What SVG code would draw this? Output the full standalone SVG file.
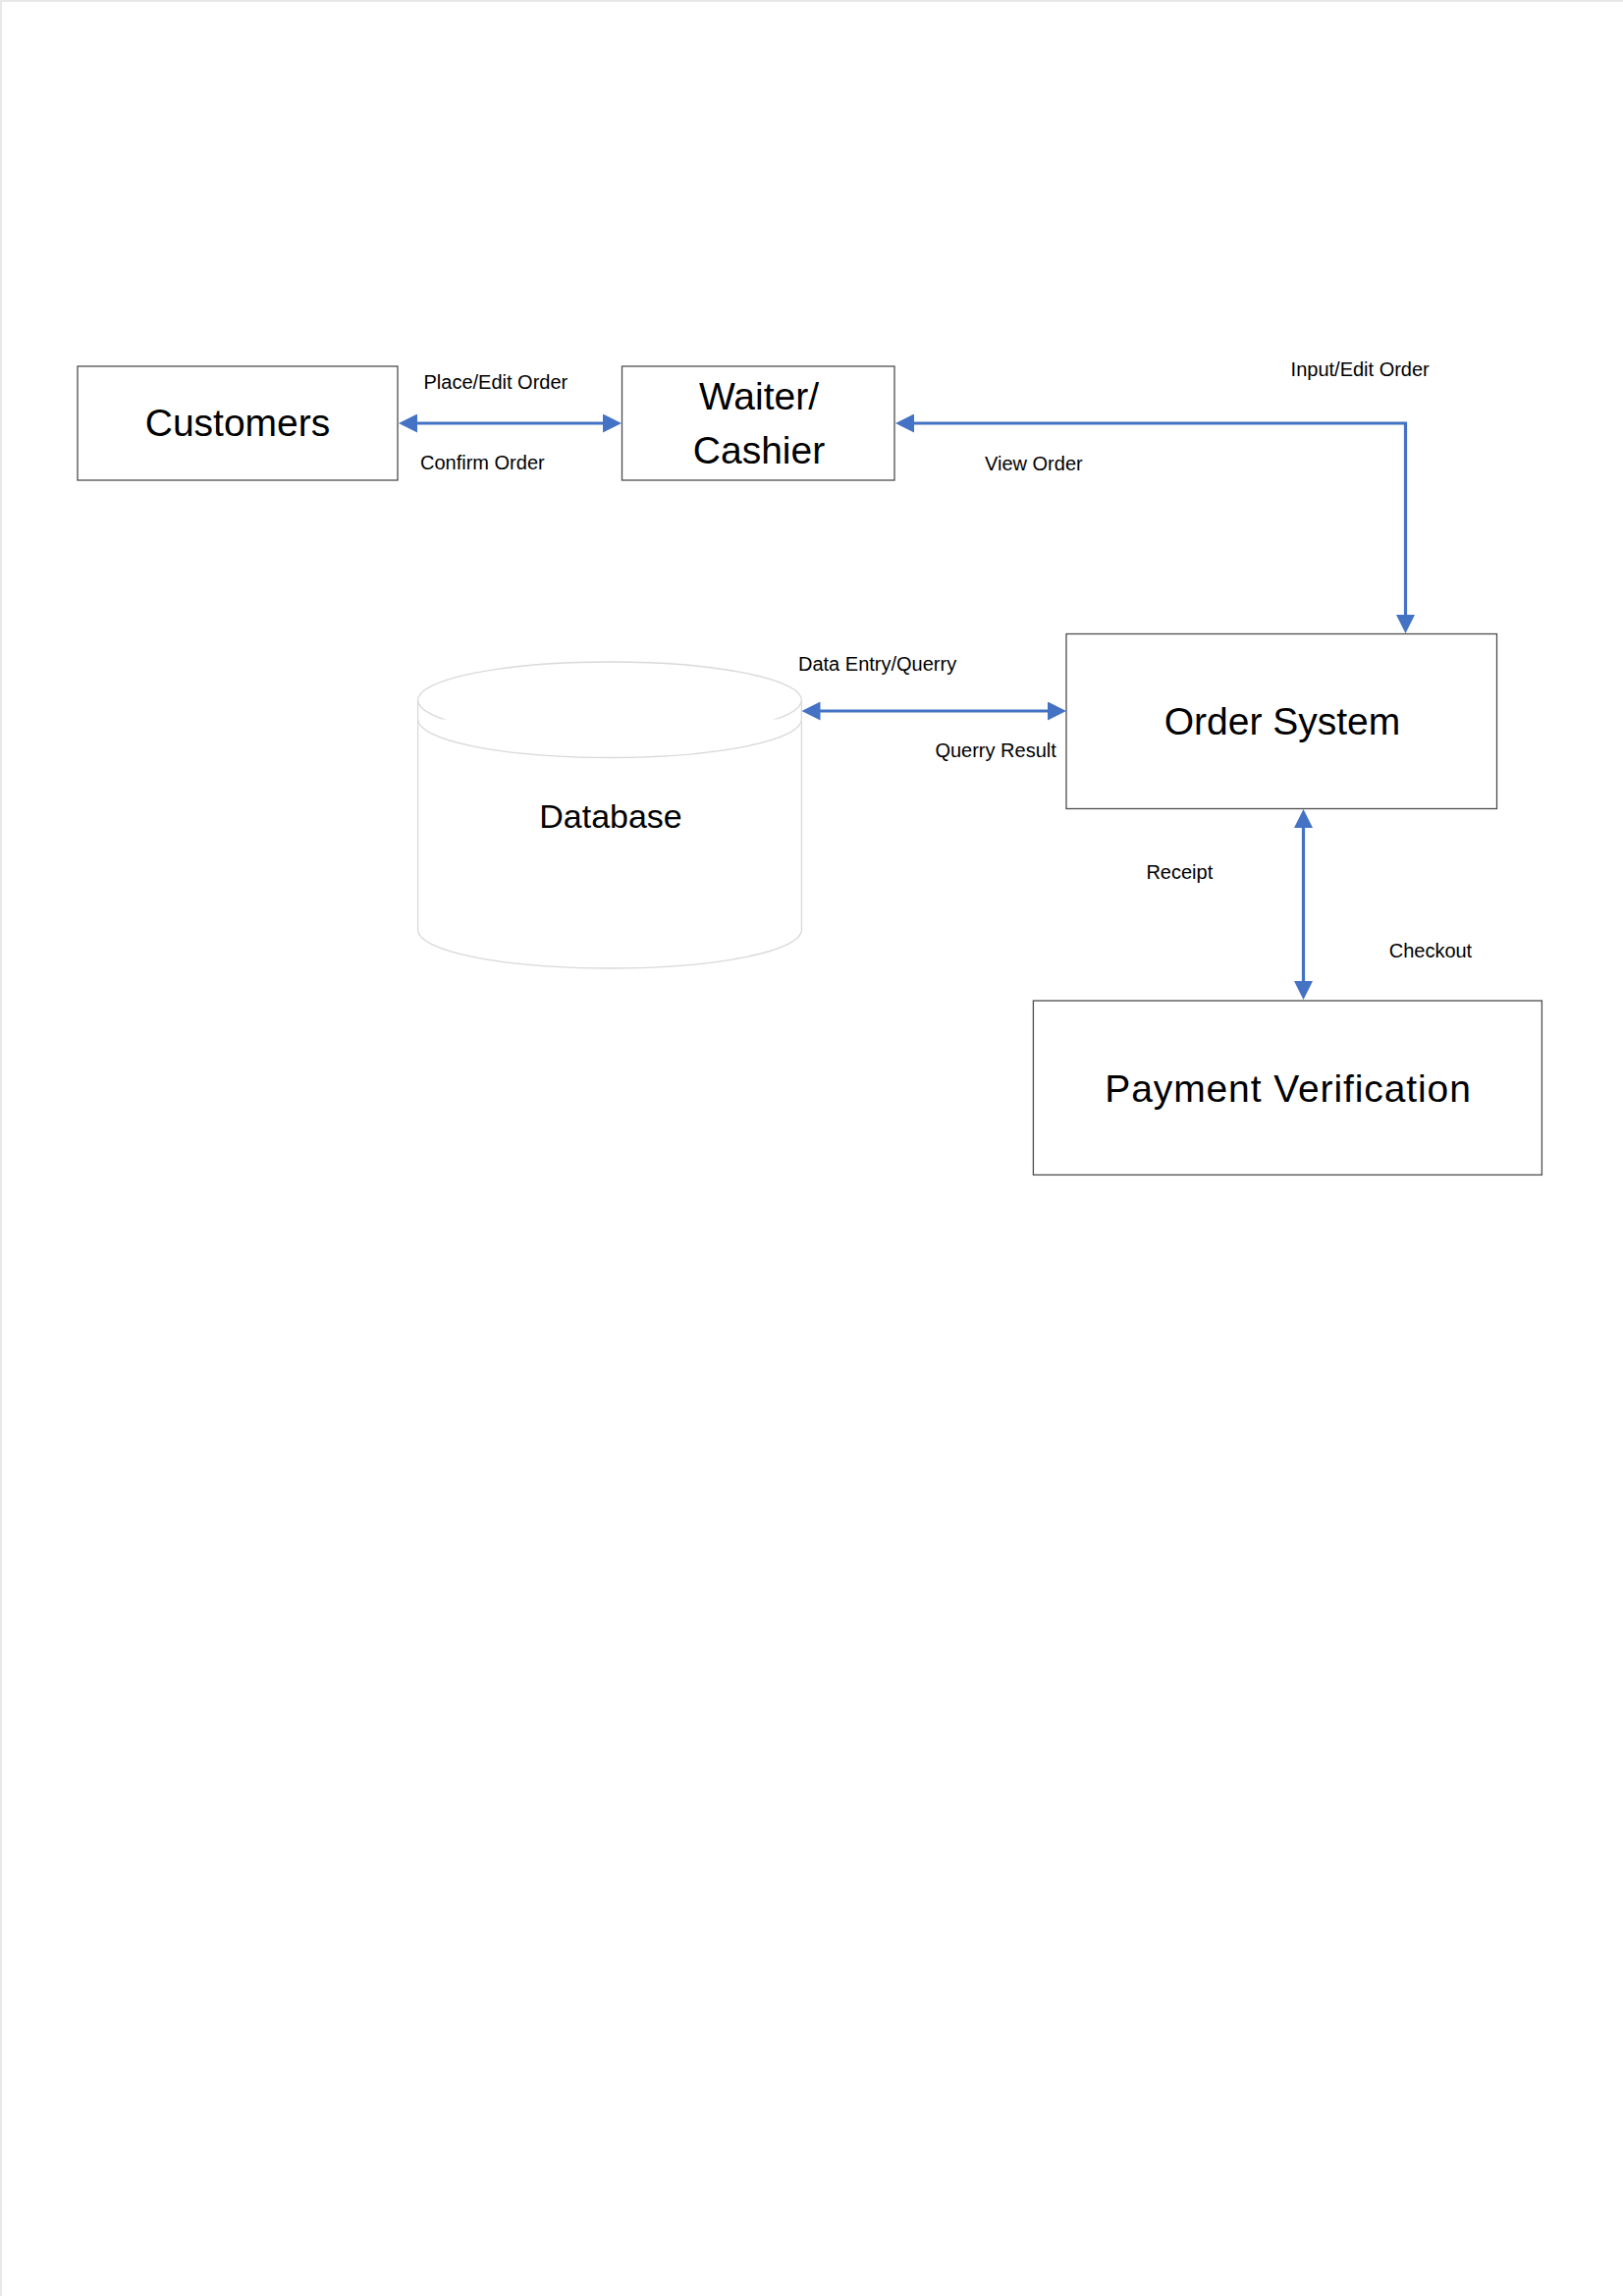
<svg xmlns="http://www.w3.org/2000/svg" width="1653" height="2338" viewBox="0 0 1653 2338">
<style>
.box{fill:#ffffff;stroke:#4d4d4d;stroke-width:1.3}
.db{fill:#ffffff;stroke:#d9d9d9;stroke-width:1.3}
.big{font-family:"Liberation Sans",Arial,sans-serif;font-size:39px;fill:#000000;text-anchor:middle}
.lbl{font-family:"Liberation Sans",Arial,sans-serif;font-size:20px;fill:#000000}
.conn{fill:none;stroke:#4472C4;stroke-width:3.2;marker-start:url(#ah);marker-end:url(#ah)}
</style>
<defs>
<marker id="ah" markerUnits="userSpaceOnUse" markerWidth="19" markerHeight="19" refX="9" refY="9.5" orient="auto-start-reverse" viewBox="0 0 19 19">
<path d="M0,0 L19,9.5 L0,19 z" fill="#4472C4"/>
</marker>
</defs>
<rect x="0" y="0" width="1653" height="2338" fill="#ffffff"/>
<path d="M1,2338 V1 H1653" fill="none" stroke="#e8e8e8" stroke-width="2"/>

<g id="customers">
<rect class="box" x="79" y="373" width="326" height="116"/>
<text class="big" x="242" y="444">Customers</text>
</g>

<g id="waiter-cashier">
<rect class="box" x="633.5" y="373" width="277.5" height="116"/>
<text class="big" x="773" y="417">Waiter/</text>
<text class="big" x="773" y="472">Cashier</text>
</g>

<g id="order-system">
<rect class="box" x="1086" y="645.5" width="438.5" height="178"/>
<text class="big" x="1306" y="748">Order System</text>
</g>

<g id="database">
<path class="db" d="M425.6,713 V947 A195.4,39 0 0 0 816.4,947 V713"/>
<ellipse class="db" cx="621" cy="713" rx="195.4" ry="39"/>
<path class="db" d="M425.6,732.5 A195.4,39 0 0 0 816.4,732.5" fill="none"/>
<text class="big" x="622" y="843" style="font-size:34px">Database</text>
</g>

<g id="payment-verification">
<rect class="box" x="1052.4" y="1019" width="518" height="177.4"/>
<text class="big" x="1312" y="1122" style="letter-spacing:0.9px">Payment Verification</text>
</g>

<g id="connectors">
<path class="conn" d="M416,431 H623"/>
<path class="conn" d="M922,431 H1431.5 V635"/>
<path class="conn" d="M826.5,724 H1076"/>
<path class="conn" d="M1327.5,834 V1008"/>
</g>

<g id="labels">
<text class="lbl" x="431.5" y="396">Place/Edit Order</text>
<text class="lbl" x="428" y="478">Confirm Order</text>
<text class="lbl" x="1314.6" y="383">Input/Edit Order</text>
<text class="lbl" x="1003" y="479">View Order</text>
<text class="lbl" x="813" y="683">Data Entry/Querry</text>
<text class="lbl" x="952.4" y="771">Querry Result</text>
<text class="lbl" x="1167.4" y="894.5">Receipt</text>
<text class="lbl" x="1414.7" y="974.5">Checkout</text>
</g>
</svg>
